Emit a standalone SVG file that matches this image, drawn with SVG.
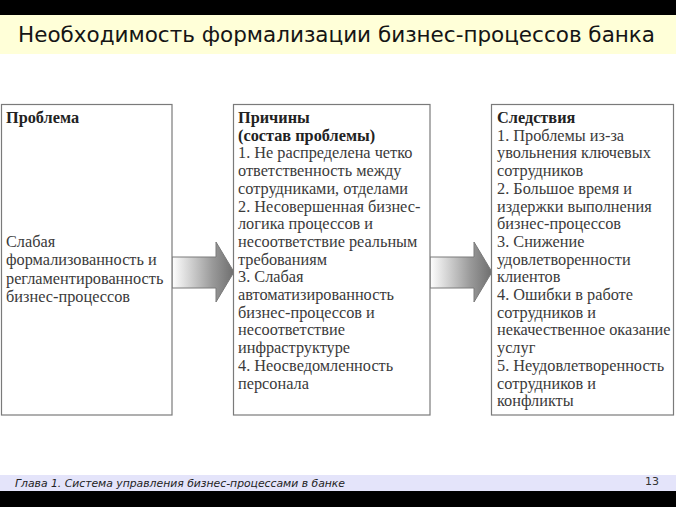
<svg xmlns="http://www.w3.org/2000/svg" width="676" height="507" viewBox="0 0 676 507">
<defs>
<linearGradient id="arrowGrad" x1="0" y1="0" x2="1" y2="0">
<stop offset="0" stop-color="#ffffff"/>
<stop offset="0.65" stop-color="#9a9a9a"/>
<stop offset="1" stop-color="#6e6e6e"/>
</linearGradient>
<style>
.box{fill:#ffffff;stroke:#7a7a7a;stroke-width:1.2}
.t{font-family:"Liberation Serif","Times New Roman",serif;font-size:16.3px;fill:#3a3a3a}
.h{font-weight:bold;fill:#222}
.arrow{fill:url(#arrowGrad);stroke:#7a7a7a;stroke-width:1}
</style>
</defs>
<rect x="0" y="0" width="676" height="507" fill="#ffffff"/>
<rect x="0" y="0" width="676" height="15" fill="#000000"/>
<rect x="0" y="15" width="676" height="39" fill="#ffffd8"/>
<text x="18" y="42" font-family="DejaVu Sans, Verdana, sans-serif" font-size="20.5" fill="#151515" textLength="637" lengthAdjust="spacingAndGlyphs">Необходимость формализации бизнес-процессов банка</text>

<g id="connectors">
<polygon class="arrow" points="172,257 216,257 216,242 234,272 216,302 216,288 172,288"/>
<polygon class="arrow" points="430,257 474,257 474,242 492,272 474,302 474,288 430,288"/>
</g>

<g id="problem">
<rect class="box" x="1.5" y="104.5" width="170.5" height="310.5"/>
<text class="t" x="6"><tspan class="h" x="6" y="123">Проблема</tspan><tspan x="6" y="247">Слабая</tspan><tspan x="6" y="265">формализованность и</tspan><tspan x="6" y="283.5">регламентированность</tspan><tspan x="6" y="302">бизнес-процессов</tspan></text>
</g>

<g id="causes">
<rect class="box" x="233.5" y="104.5" width="196.5" height="310.5"/>
<text class="t"><tspan class="h" x="238" y="123">Причины</tspan><tspan class="h" x="238" y="140.7">(состав проблемы)</tspan><tspan x="238" y="158.4">1. Не распределена четко</tspan><tspan x="238" y="176.1">ответственность между</tspan><tspan x="238" y="193.8">сотрудниками, отделами</tspan><tspan x="238" y="211.5">2. Несовершенная бизнес-</tspan><tspan x="238" y="229.2">логика процессов и</tspan><tspan x="238" y="246.9">несоответствие реальным</tspan><tspan x="238" y="264.6">требованиям</tspan><tspan x="238" y="282.3">3. Слабая</tspan><tspan x="238" y="300">автоматизированность</tspan><tspan x="238" y="317.7">бизнес-процессов и</tspan><tspan x="238" y="335.4">несоответствие</tspan><tspan x="238" y="353.1">инфраструктуре</tspan><tspan x="238" y="370.8">4. Неосведомленность</tspan><tspan x="238" y="388.5">персонала</tspan></text>
</g>

<g id="consequences">
<rect class="box" x="491.5" y="104.5" width="182" height="310.5"/>
<text class="t"><tspan class="h" x="497" y="123">Следствия</tspan><tspan x="497" y="140.7">1. Проблемы из-за</tspan><tspan x="497" y="158.4">увольнения ключевых</tspan><tspan x="497" y="176.1">сотрудников</tspan><tspan x="497" y="193.8">2. Большое время и</tspan><tspan x="497" y="211.5">издержки выполнения</tspan><tspan x="497" y="229.2">бизнес-процессов</tspan><tspan x="497" y="246.9">3. Снижение</tspan><tspan x="497" y="264.6">удовлетворенности</tspan><tspan x="497" y="282.3">клиентов</tspan><tspan x="497" y="300">4. Ошибки в работе</tspan><tspan x="497" y="317.7">сотрудников и</tspan><tspan x="497" y="335.4">некачественное оказание</tspan><tspan x="497" y="353.1">услуг</tspan><tspan x="497" y="370.8">5. Неудовлетворенность</tspan><tspan x="497" y="388.5">сотрудников и</tspan><tspan x="497" y="406.2">конфликты</tspan></text>
</g>

<rect x="0" y="475" width="676" height="16" fill="#e4e4fa"/>
<rect x="0" y="491" width="676" height="16" fill="#000000"/>
<text x="15" y="487" font-family="DejaVu Sans, Verdana, sans-serif" font-style="italic" font-size="11" fill="#222" textLength="330" lengthAdjust="spacingAndGlyphs">Глава 1. Система управления бизнес-процессами в банке</text>
<text x="659" y="485" text-anchor="end" font-family="DejaVu Sans, Verdana, sans-serif" font-size="11" fill="#333">13</text>
</svg>
